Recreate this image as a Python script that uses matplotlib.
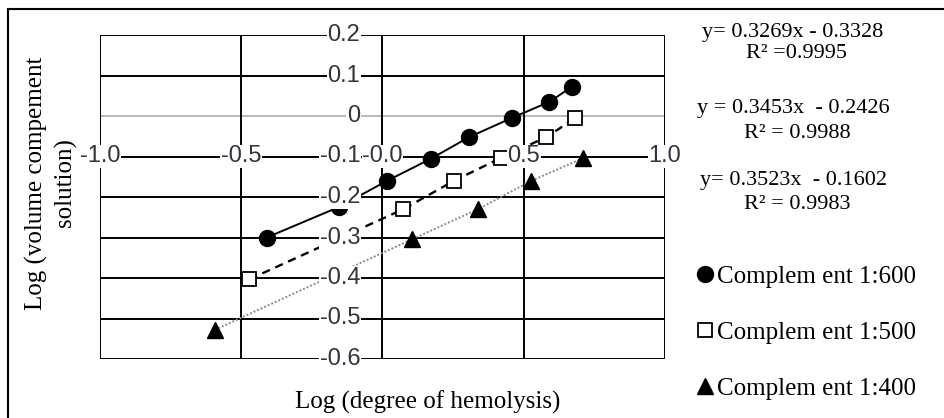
import matplotlib
matplotlib.use("Agg")
import matplotlib.pyplot as plt
from matplotlib.lines import Line2D

# ---- data ----
s1_x = [-0.41, -0.155, 0.016, 0.17, 0.307, 0.457, 0.591, 0.67]
s1_y = [-0.30, -0.225, -0.16, -0.106, -0.052, -0.005, 0.035, 0.072]
s2_x = [-0.471, 0.074, 0.253, 0.418, 0.58, 0.683]
s2_y = [-0.403, -0.23, -0.16, -0.104, -0.052, -0.005]
s3_x = [-0.594, 0.106, 0.338, 0.527, 0.71]
s3_y = [-0.528, -0.304, -0.23, -0.16, -0.104]

series_labels = ["Complem ent 1:600", "Complem ent 1:500", "Complem ent 1:400"]
x_ticks = [-1.0, -0.5, 0.0, 0.5, 1.0]
x_tick_labels = ["-1.0", "-0.5", "-0.0", "0.5", "1.0"]
y_ticks = [0.2, 0.1, 0.0, -0.1, -0.2, -0.3, -0.4, -0.5, -0.6]
y_tick_labels = ["0.2", "0.1", "0", "-0.1", "-0.2", "-0.3", "-0.4", "-0.5", "-0.6"]
equations = ["y= 0.3269x - 0.3328", "y = 0.3453x  - 0.2426", "y= 0.3523x  - 0.1602"]
r2_labels = ["R\u00b2 =0.9995", "R\u00b2 = 0.9988", "R\u00b2 = 0.9983"]

W, H = 945, 418
fig = plt.figure(figsize=(W / 100, H / 100), dpi=100)
fig.patch.set_facecolor("white")

ax = fig.add_axes([100 / W, (H - 359) / H, 565 / W, 324 / H])
ax.set_xlim(-1, 1)
ax.set_ylim(-0.6, 0.2)
ax.set_xticks([])
ax.set_yticks([])
for sp in ax.spines.values():
    sp.set_visible(False)

# grid
for yv in y_ticks:
    col = "#b8b8b8" if yv == 0 else "black"
    ax.axhline(yv, color=col, lw=1.4, zorder=1)
for xv in x_ticks:
    ax.axvline(xv, color="black", lw=1.4, zorder=1)

# series
l1, = ax.plot(s1_x, s1_y, color="black", lw=1.4, marker="o", ms=11.5,
              mfc="black", mec="black", zorder=3, label=series_labels[0])
l2, = ax.plot(s2_x, s2_y, color="black", lw=1.7, ls=(0, (3.5, 2.5)), marker="s", ms=10,
              mfc="white", mec="black", mew=1.3, zorder=3, label=series_labels[1])
l3, = ax.plot(s3_x, s3_y, color="#8a8a8a", lw=1.4, ls=(0, (1, 1)), marker="^", ms=12,
              mfc="black", mec="black", zorder=3, label=series_labels[2])

tick_font = dict(family=["Liberation Sans Narrow", "Liberation Sans"], size=17,
                 color="#333340")
bbox = dict(facecolor="white", edgecolor="none", pad=0.5)

# y tick labels along x=0 axis
for yv, lab in zip(y_ticks, y_tick_labels):
    ax.annotate(lab, xy=(0, yv), xytext=(-16, 0), textcoords="offset points",
                ha="right", va="center", zorder=4, bbox=bbox, annotation_clip=False,
                **tick_font)
# x tick labels along y=-0.1 axis
for xv, lab in zip(x_ticks, x_tick_labels):
    ax.annotate(lab, xy=(xv, -0.1), xytext=(0, 0), textcoords="offset points",
                ha="center", va="center", zorder=4, bbox=bbox, annotation_clip=False,
                **tick_font)

serif = "Liberation Serif"
fig.text(428 / W, 1 - 402 / H, "Log (degree of hemolysis)", family=serif, size=18,
         ha="center", va="center")
fig.text(51 / W, 1 - 183 / H, "Log (volume compement\nsolution)", family=serif, size=18,
         ha="center", va="center", rotation=90, linespacing=1.3, multialignment="center")

eq_y = [32, 108, 180]
r2_y = [54, 133, 205]
for e, r, ey, ry in zip(equations, r2_labels, eq_y, r2_y):
    fig.text(793 / W, 1 - ey / H, e, family=serif, size=16, ha="center", va="center")
    fig.text(797 / W, 1 - ry / H, r, family=serif, size=16, ha="center", va="center")

handles = [Line2D([], [], ls="none", marker="o", ms=11.5, mfc="black", mec="black"),
           Line2D([], [], ls="none", marker="s", ms=10, mfc="white", mec="black", mew=1.3),
           Line2D([], [], ls="none", marker="^", ms=12, mfc="black", mec="black")]
fig.legend(handles, series_labels, loc="upper left", bbox_to_anchor=(698 / W, 1 - 265 / H),
           frameon=False, prop=dict(family=serif, size=18), handlelength=0.6,
           handletextpad=0.15, labelspacing=1.35, borderpad=0, borderaxespad=0)

# outer border
fig.add_artist(Line2D([8.5 / W, 8.5 / W], [0, 1 - 9 / H], color="black", lw=1.5,
                      transform=fig.transFigure))
fig.add_artist(Line2D([8.5 / W, 1], [1 - 9 / H, 1 - 9 / H], color="black", lw=1.5,
                      transform=fig.transFigure))

fig.savefig("out.png", dpi=100)
